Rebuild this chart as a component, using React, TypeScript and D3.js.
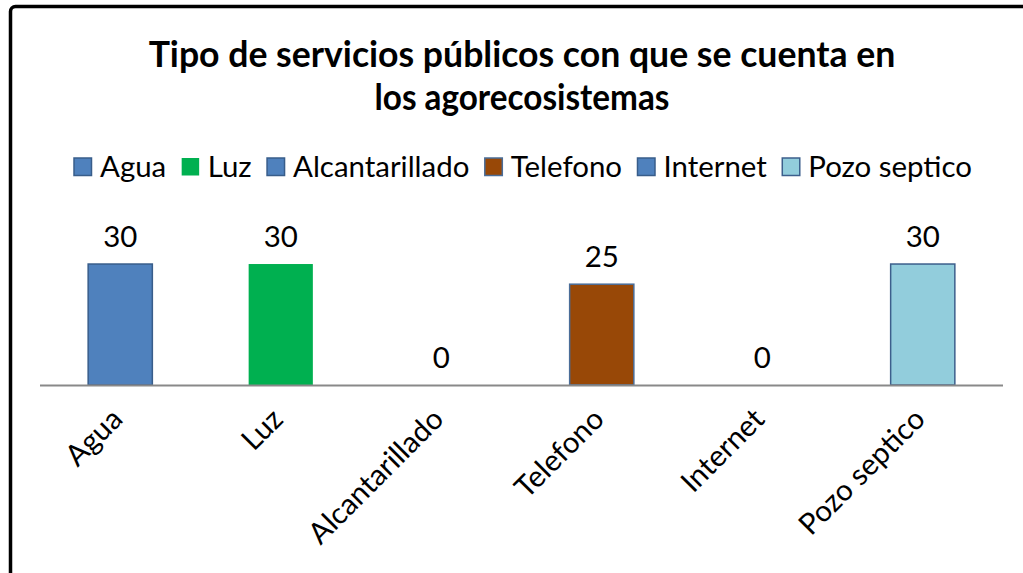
import React, { useEffect, useRef } from "react";
import * as d3 from "d3";

const categories = ["Agua", "Luz", "Alcantarillado", "Telefono", "Internet", "Pozo septico"];
const values = [30, 30, 0, 25, 0, 30];
const fills = ["#4f81bd", "#00b050", "#4f81bd", "#984807", "#4f81bd", "#92cddc"];
const strokes = ["#385d8a", "none", "#385d8a", "#4a6d98", "#385d8a", "#3c5f8c"];
const titleLines = ["Tipo de servicios públicos con que se cuenta en", "los agorecosistemas"];

const W = 1023;
const H = 573;
const FONT = "Lato, 'Open Sans', sans-serif";

export default function App() {
  const ref = useRef<SVGSVGElement | null>(null);

  useEffect(() => {
    const svg = d3.select(ref.current);
    svg.selectAll("*").remove();

    // frame
    svg.append("rect")
      .attr("x", 10.5).attr("y", 6.5)
      .attr("width", 1200).attr("height", 800)
      .attr("rx", 5)
      .attr("fill", "#fff")
      .attr("stroke", "#000").attr("stroke-width", 3.5);

    // title
    const titleG = svg.append("g");
    const tEls = titleLines.map((line, i) =>
      titleG.append("text")
        .attr("x", 522).attr("y", i === 0 ? 67 : 110)
        .attr("text-anchor", "middle")
        .attr("font-family", FONT).attr("font-weight", 700)
        .attr("font-size", 32).attr("fill", "#000")
        .text(line)
    );
    const len1 = (tEls[0].node() as SVGTextElement).getComputedTextLength();
    const tSize = (32 * 747) / len1;
    tEls.forEach((t) => t.attr("font-size", tSize));
    const len2 = (tEls[1].node() as SVGTextElement).getComputedTextLength();
    if (len2 > 295) {
      tEls[1].attr("textLength", 295).attr("lengthAdjust", "spacingAndGlyphs");
    }

    // legend: measure widths
    const probe = svg.append("g");
    const w1 = categories.map((c) => {
      const t = probe.append("text").attr("font-family", FONT).attr("font-size", 100).text(c);
      return (t.node() as SVGTextElement).getComputedTextLength() / 100;
    });
    probe.remove();
    const sw = 19, gapT = 7, gapI = 15.4;
    const sumW1 = d3.sum(w1);
    const fs = (898 - categories.length * (sw + gapT) - (categories.length - 1) * gapI) / sumW1;

    const legend = svg.append("g");
    let lx = 74;
    categories.forEach((c, i) => {
      legend.append("rect")
        .attr("x", lx).attr("y", 158)
        .attr("width", sw - 1.5).attr("height", sw - 1.5)
        .attr("fill", fills[i])
        .attr("stroke", strokes[i] === "none" ? "none" : strokes[i])
        .attr("stroke-width", 1.5);
      legend.append("text")
        .attr("x", lx + sw + gapT).attr("y", 177)
        .attr("font-family", FONT).attr("font-size", fs).attr("fill", "#000")
        .text(c);
      lx += sw + gapT + w1[i] * fs + gapI;
    });

    // scales
    const x = d3.scaleBand<string>().domain(categories).range([40, 1003]).paddingInner(0.6).paddingOuter(0.3);
    const y = d3.scaleLinear().domain([0, 40]).range([385, 385 - 161.3]);

    // bars
    svg.append("g").selectAll("rect")
      .data(values)
      .join("rect")
      .attr("x", (_, i) => x(categories[i])!)
      .attr("y", (d) => y(d))
      .attr("width", x.bandwidth())
      .attr("height", (d) => y(0) - y(d))
      .attr("fill", (_, i) => fills[i])
      .attr("stroke", (d, i) => (d === 0 ? "none" : strokes[i]))
      .attr("stroke-width", 1.5);

    // axis line
    svg.append("line")
      .attr("x1", 40).attr("x2", 1003)
      .attr("y1", y(0) + 0.5).attr("y2", y(0) + 0.5)
      .attr("stroke", "#898989").attr("stroke-width", 2);

    // data labels
    svg.append("g").selectAll("text")
      .data(values)
      .join("text")
      .attr("x", (_, i) => x(categories[i])! + x.bandwidth() / 2)
      .attr("y", (d) => y(d) - 17.5)
      .attr("text-anchor", "middle")
      .attr("font-family", FONT).attr("font-size", fs).attr("fill", "#000")
      .text((d) => String(d));

    // category labels rotated
    svg.append("g").selectAll("text")
      .data(categories)
      .join("text")
      .attr("transform", (c) => `translate(${x(c)! + x.bandwidth() / 2 + 4},${421}) rotate(-45)`)
      .attr("text-anchor", "end")
      .attr("font-family", FONT).attr("font-size", fs).attr("fill", "#000")
      .text((c) => c);
  }, []);

  return (
    <svg
      ref={ref}
      width={W}
      height={H}
      style={{ position: "absolute", left: 0, top: 0, background: "#fff" }}
    />
  );
}
